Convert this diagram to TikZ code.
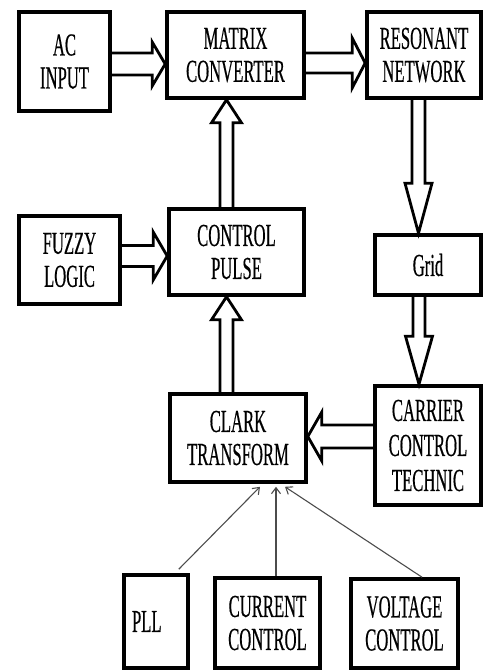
\documentclass[tikz,border=0pt]{standalone}
\usepackage{fontspec}
\setmainfont[FakeStretch=0.52, FakeBold=0.4]{Liberation Serif}
\usetikzlibrary{arrows.meta,calc}

\begin{document}
\begin{tikzpicture}[x=1pt, y=-1pt, every node/.style={font=\fontsize{32}{33}\selectfont},
	box/.style={draw, line width=3.6pt, align=center, inner sep=0pt},
	fat/.style n args={3}{draw, line width=2.8pt, line join=miter,
		to path={let \p1=(\tikztostart), \p2=(\tikztotarget), \p3=($(\p2)!#3!(\p1)$) in
			($(\p1)!#1!90:(\p2)$) -- ($(\p3)!#1!90:(\p2)$) -- ($(\p3)!#2!90:(\p2)$) -- (\p2)
			-- ($(\p3)!#2!-90:(\p2)$) -- ($(\p3)!#1!-90:(\p2)$) -- ($(\p1)!#1!-90:(\p2)$)}},
	feed/.style={draw=black!70, line width=1.1pt, -{Straight Barb[length=6pt, width=9pt]}}]
	\useasboundingbox (0,0) rectangle (484,670);
	% top row
	\node[box, minimum width=91pt, minimum height=99pt] (ac) at (64.5,61.5) {AC\\INPUT};
	\node[box, minimum width=137pt, minimum height=86pt] (mc) at (235.5,55) {MATRIX\\CONVERTER};
	\node[box, minimum width=114pt, minimum height=86pt] (rn) at (424,55) {RESONANT\\NETWORK};
	% middle
	\node[box, minimum width=101pt, minimum height=88pt] (fl) at (69.5,260) {FUZZY\\LOGIC};
	\node[box, minimum width=135pt, minimum height=86pt] (cp) at (236.5,252) {CONTROL\\PULSE};
	\node[box, minimum width=106pt, minimum height=60pt] (grid) at (428,265) {Grid};
	\node[box, minimum width=136pt, minimum height=88pt] (ct) at (238,438) {CLARK\\TRANSFORM};
	\node[box, minimum width=106pt, minimum height=119pt, font=\fontsize{32}{35}\selectfont] (cc) at (428,445.5) {CARRIER\\CONTROL\\TECHNIC};
	% bottom row
	\node[box, text width=48pt, inner xsep=8pt, align=left, minimum height=93pt] (pll) at (156,621.5) {PLL};
	\node[box, minimum width=105pt, minimum height=90pt] (cur) at (267.5,623) {CURRENT\\CONTROL};
	\node[box, minimum width=107pt, minimum height=89pt] (vol) at (404.5,623.5) {VOLTAGE\\CONTROL};

	\draw[fat={11pt}{22pt}{13pt}] ([yshift=-2.5pt]ac.east) to ([yshift=-9pt]mc.west);
	\draw[fat={10pt}{25pt}{13pt}] ([yshift=-8pt]mc.east) to ([yshift=-8pt]rn.west);
	\draw[fat={10.5pt}{24pt}{14pt}] ([yshift=4pt]fl.east) to ([yshift=-4pt]cp.west);
	\draw[fat={6.5pt}{15pt}{23pt}] ([xshift=-10pt]cp.north) to ([xshift=-9pt]mc.south);
	\draw[fat={6.5pt}{15pt}{23pt}] ([xshift=-11.5pt]ct.north) to ([xshift=-10pt]cp.south);
	\draw[fat={6.5pt}{13.5pt}{50pt}] ([xshift=-5.5pt]rn.south) to ([xshift=-9.5pt]grid.north);
	\draw[fat={6pt}{13.5pt}{48pt}] ([xshift=-9pt]grid.south) to ([xshift=-9pt]cc.north);
	\draw[fat={11.5pt}{24.5pt}{14pt}] ([yshift=9pt]cc.west) to ([yshift=1.5pt]ct.east);

	\draw[feed] ([xshift=-11pt,yshift=4pt]pll.north east) -- ([xshift=22pt,yshift=-3pt]ct.south);
	\draw[feed] ([xshift=8.5pt]cur.north) -- ([xshift=38pt,yshift=-3pt]ct.south);
	\draw[feed] ([xshift=17.5pt]vol.north) -- ([xshift=47pt,yshift=-3pt]ct.south);
\end{tikzpicture}
\end{document}
